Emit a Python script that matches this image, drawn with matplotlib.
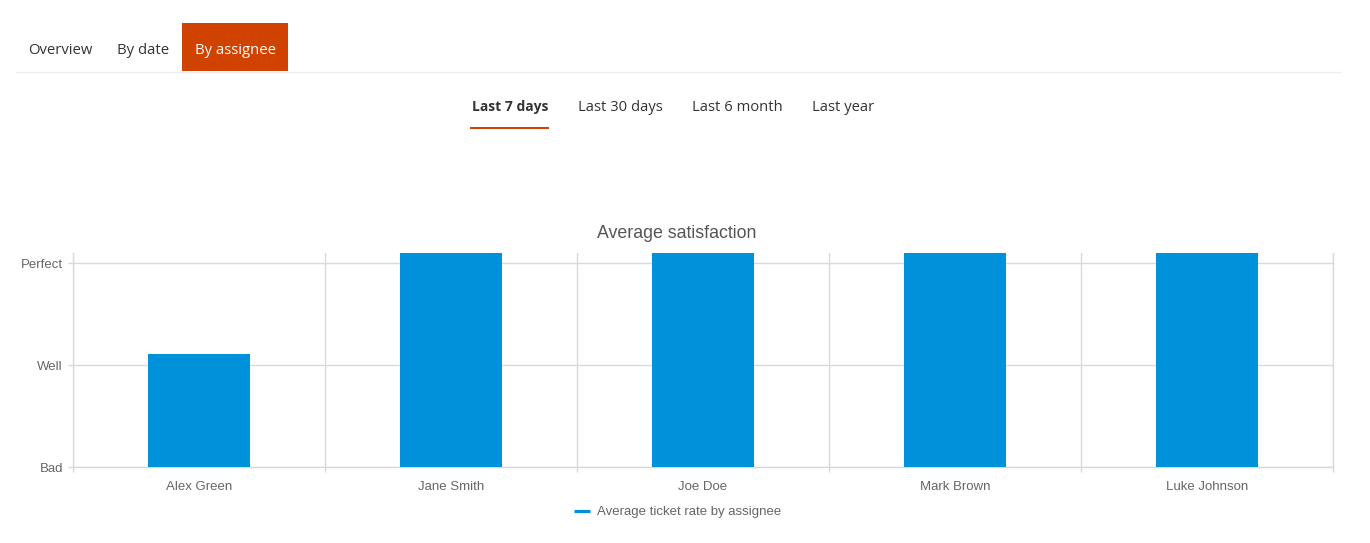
import matplotlib
matplotlib.use("Agg")
import matplotlib.pyplot as plt
from matplotlib.patches import Rectangle
from matplotlib.lines import Line2D
import numpy as np

W, H = 1370, 543

assignees = ["Alex Green", "Jane Smith", "Joe Doe", "Mark Brown", "Luke Johnson"]
avg_rate = [1.11, 2.1, 2.1, 2.1, 2.1]
rate_levels = [0, 1, 2]
rate_labels = ["Bad", "Well", "Perfect"]
tabs = ["Overview", "By date", "By assignee"]
periods = ["Last 7 days", "Last 30 days", "Last 6 month", "Last year"]

BAR = "#0091db"
GRID = "#d9d9d9"
TXT = "#666666"
ORANGE = "#d04200"

fig = plt.figure(figsize=(W / 100, H / 100), dpi=100)
fig.patch.set_facecolor("white")

def fx(x):
    return x / W

def fy(y):
    return 1 - y / H

ui_font = ["Open Sans", "DejaVu Sans"]
chart_font = ["Liberation Sans", "DejaVu Sans"]

# Top tabs
fig.add_artist(Rectangle((fx(182), fy(71)), fx(288) - fx(182), fy(23) - fy(71),
                         transform=fig.transFigure, facecolor=ORANGE, edgecolor="none"))
fig.add_artist(Line2D([fx(16), fx(1340)], [fy(71.5), fy(71.5)], transform=fig.transFigure,
                      color="#eeeeee", lw=1))
tab_x = [60, 143, 235]
for t, x in zip(tabs, tab_x):
    fig.text(fx(x), fy(50), t, ha="center", va="center", fontsize=10.7, family=ui_font,
             color="white" if t == "By assignee" else "#333333")

# Period tabs
per_x = [510, 620, 737, 843]
for i, (p, x) in enumerate(zip(periods, per_x)):
    fig.text(fx(x), fy(107.5), p, ha="center", va="center",
             fontsize=10.0 if i == 0 else 10.6, family=ui_font,
             color="#333333", fontweight="bold" if i == 0 else "normal")
fig.add_artist(Rectangle((fx(470), fy(129)), fx(549) - fx(470), fy(126.5) - fy(129),
                         transform=fig.transFigure, facecolor=ORANGE, edgecolor="none"))

# Chart
ax = fig.add_axes([fx(73), fy(467), fx(1333) - fx(73), fy(253) - fy(467)])
x = np.arange(len(assignees))
ax.bar(x, avg_rate, width=0.405, color=BAR, edgecolor="none", zorder=3)
ax.set_xlim(-0.5, len(assignees) - 0.5)
ax.set_ylim(0, 2.1)

ax.set_yticks(rate_levels)
ax.set_yticklabels(rate_labels)
ax.set_xticks(x)
ax.set_xticklabels(assignees)
ax.set_xticks(np.arange(len(assignees) + 1) - 0.5, minor=True)

ax.tick_params(axis="x", which="major", length=0, pad=10, labelsize=9.5, labelcolor=TXT)
ax.tick_params(axis="x", which="minor", length=3.6, color=GRID, width=1)
ax.tick_params(axis="y", which="major", length=3.6, color=GRID, width=1, pad=3.6,
               labelsize=9.5, labelcolor=TXT)
for lab in ax.get_xticklabels() + ax.get_yticklabels():
    lab.set_family(chart_font)

ax.grid(axis="y", which="major", color=GRID, lw=1, zorder=0)
ax.grid(axis="x", which="minor", color=GRID, lw=1, zorder=0)
ax.grid(axis="x", which="major", visible=False)
for s in ["left", "right", "bottom"]:
    ax.spines[s].set_color(GRID)
    ax.spines[s].set_linewidth(1)
ax.spines["top"].set_visible(False)

fig.text(fx(677), fy(234), "Average satisfaction", ha="center", va="center",
         fontsize=12.8, color="#555555", family=chart_font)

# Legend
fig.add_artist(Line2D([fx(574), fx(590)], [fy(510.5), fy(510.5)], transform=fig.transFigure,
                      color=BAR, lw=2.3, solid_capstyle="butt"))
fig.text(fx(597), fy(511.5), "Average ticket rate by assignee", ha="left", va="center",
         fontsize=9.5, color=TXT, family=chart_font)

fig.savefig("out.png", dpi=100, facecolor="white")
